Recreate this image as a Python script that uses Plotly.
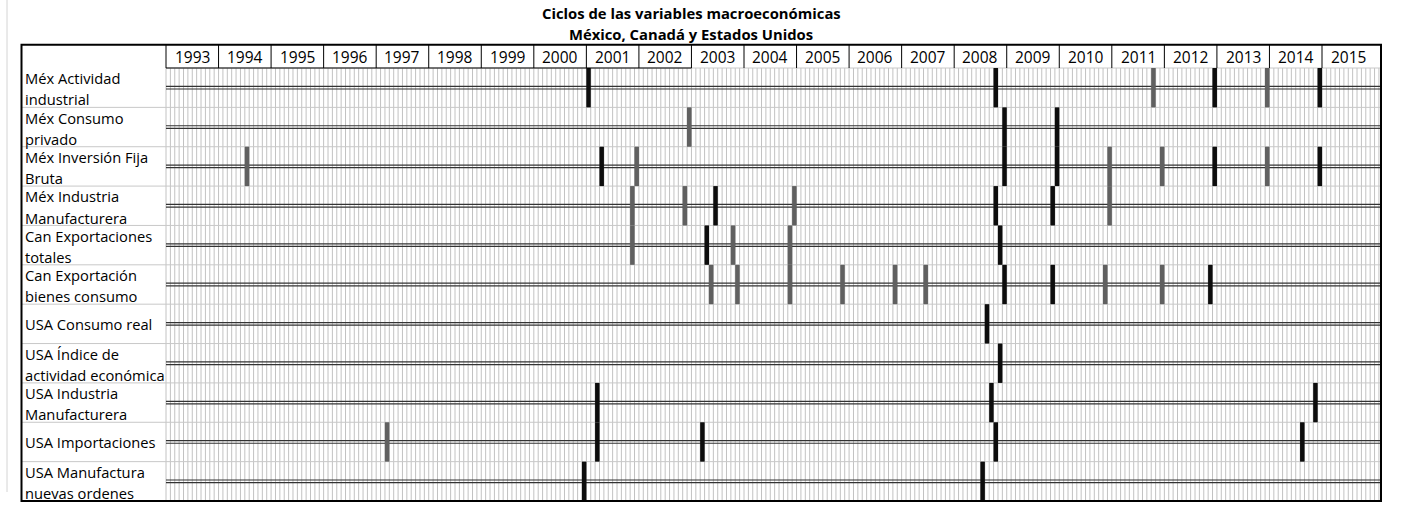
import plotly.graph_objects as go

# ---------------- data ----------------
years = list(range(1993, 2016))
row_labels = [
    ["Méx Actividad", "industrial"],
    ["Méx Consumo", "privado"],
    ["Méx Inversión Fija", "Bruta"],
    ["Méx Industria", "Manufacturera"],
    ["Can Exportaciones", "totales"],
    ["Can Exportación", "bienes consumo"],
    ["USA Consumo real"],
    ["USA Índice de", "actividad económica"],
    ["USA Industria", "Manufacturera"],
    ["USA Importaciones"],
    ["USA Manufactura", "nuevas ordenes"],
]
# turning points per row (YYYY-MM); black = principal, gray = secondary
black_marks = [
    ["2001-01", "2008-10", "2012-12", "2014-12"],
    ["2008-12", "2009-12"],
    ["2001-04", "2008-12", "2009-12", "2012-12", "2014-12"],
    ["2003-06", "2008-10", "2009-11"],
    ["2003-04", "2008-11"],
    ["2008-12", "2009-11", "2012-11"],
    ["2008-08"],
    ["2008-11"],
    ["2001-03", "2008-09", "2014-11"],
    ["2001-03", "2003-03", "2008-10", "2014-08"],
    ["2000-12", "2008-07"],
]
gray_marks = [
    ["2011-10", "2013-12"],
    ["2002-12"],
    ["1994-07", "2001-12", "2010-12", "2011-12", "2013-12"],
    ["2001-11", "2002-11", "2004-12", "2010-12"],
    ["2001-11", "2003-10", "2004-11"],
    ["2003-05", "2003-11", "2004-11", "2005-11", "2006-11", "2007-06", "2010-11", "2011-12"],
    [],
    [],
    [],
    ["1997-03"],
    [],
]
title_lines = ["Ciclos de las variables macroeconómicas", "México, Canadá y Estados Unidos"]

# ---------------- geometry ----------------
W, H = 1408, 527
X0_PX = 166.0                  # x pixel of Jan 1993
PXM = (1322 - 166) / 264.0     # pixels per month
Y0_PX = 68.0                   # top of first row
RH = (501 - 68) / 11.0         # row height in px
N_ROWS = len(row_labels)

def mx(px):
    return (px - X0_PX) / PXM

def ry(py):
    return (py - Y0_PX) / RH

M_END = mx(1381)
M_LEFT = mx(21.5)
R_TOP = ry(44.8)
R_HEAD = ry(46)

def month_index(s):
    y, m = s.split("-")
    return (int(y) - 1993) * 12 + (int(m) - 1) + 0.5

fig = go.Figure()

# month grid lines
gx, gy = [], []
for k in range(0, int(M_END) + 1):
    gx += [k, k, None]
    gy += [0, N_ROWS, None]
fig.add_trace(go.Scatter(x=gx, y=gy, mode="lines", line=dict(color="#c2c2c2", width=1),
                         hoverinfo="skip", showlegend=False))

# row separators (light gray)
hx, hy = [], []
for r in range(1, N_ROWS):
    hx += [M_LEFT, M_END, None]
    hy += [r, r, None]
hx += [0, M_END, None]
hy += [0, 0, None]
fig.add_trace(go.Scatter(x=hx, y=hy, mode="lines", line=dict(color="#c8c8c8", width=1),
                         hoverinfo="skip", showlegend=False))

# double line in the middle of each row
off = 1.3 / RH
dx, dy = [], []
for r in range(N_ROWS):
    for o in (-off, off):
        dx += [0, M_END, None]
        dy += [r + 0.5 + o, r + 0.5 + o, None]
fig.add_trace(go.Scatter(x=dx, y=dy, mode="lines", line=dict(color="#333333", width=1.2),
                         hoverinfo="skip", showlegend=False))

# turning-point bars
def bars(marks, color):
    bx, by = [], []
    for r, lst in enumerate(marks):
        for s in lst:
            m = month_index(s)
            bx += [m, m, None]
            by += [r, r + 1, None]
    fig.add_trace(go.Scatter(x=bx, y=by, mode="lines", line=dict(color=color, width=4.5),
                             hoverinfo="skip", showlegend=False))

bars(gray_marks, "#606060")
bars(black_marks, "#0d0d0d")

shapes = []
# page artifact line at far left
shapes.append(dict(type="line", x0=mx(7), x1=mx(7), y0=ry(0), y1=ry(492),
                   line=dict(color="#d4d4d4", width=1)))
# header dividers
for i in range(len(years)):
    shapes.append(dict(type="line", x0=i * 12, x1=i * 12, y0=R_TOP, y1=0,
                       line=dict(color="#000000", width=1)))
# header bottom (only until 2003)
shapes.append(dict(type="line", x0=0, x1=120, y0=0, y1=0, line=dict(color="#000000", width=1)))
# outer border
shapes.append(dict(type="rect", x0=M_LEFT, x1=M_END, y0=R_TOP, y1=N_ROWS,
                   line=dict(color="#000000", width=2), fillcolor="rgba(0,0,0,0)"))

annotations = []
FONT = "Open Sans"
for i, yv in enumerate(years):
    annotations.append(dict(x=i * 12 + 6, y=(R_HEAD + 0) / 2, text=str(yv), showarrow=False,
                            xanchor="center", yanchor="middle",
                            font=dict(family=FONT, size=15.5, color="#000000")))
for r, lines in enumerate(row_labels):
    if len(lines) == 2:
        pos = [r + 0.26, r + 0.80]
    else:
        pos = [r + 0.5]
    for t, yy in zip(lines, pos):
        annotations.append(dict(x=mx(22.5), y=yy, text=t, showarrow=False,
                                xanchor="left", yanchor="middle",
                                font=dict(family=FONT, size=14.7, color="#000000")))
for t, py in zip(title_lines, [12.5, 34]):
    annotations.append(dict(x=mx(691), y=ry(py), text="<b>" + t + "</b>", showarrow=False,
                            xanchor="center", yanchor="middle",
                            font=dict(family=FONT, size=14.8, color="#000000")))

fig.update_layout(
    width=W, height=H,
    margin=dict(l=0, r=0, t=0, b=0),
    paper_bgcolor="white", plot_bgcolor="white",
    xaxis=dict(range=[mx(0), mx(W)], visible=False, fixedrange=True),
    yaxis=dict(range=[ry(H), ry(0)], visible=False, fixedrange=True),
    shapes=shapes, annotations=annotations,
    showlegend=False,
)

fig.write_html("out.html", config={"displayModeBar": False},
               post_script="document.body.style.margin='0px';document.body.style.overflow='hidden';")
